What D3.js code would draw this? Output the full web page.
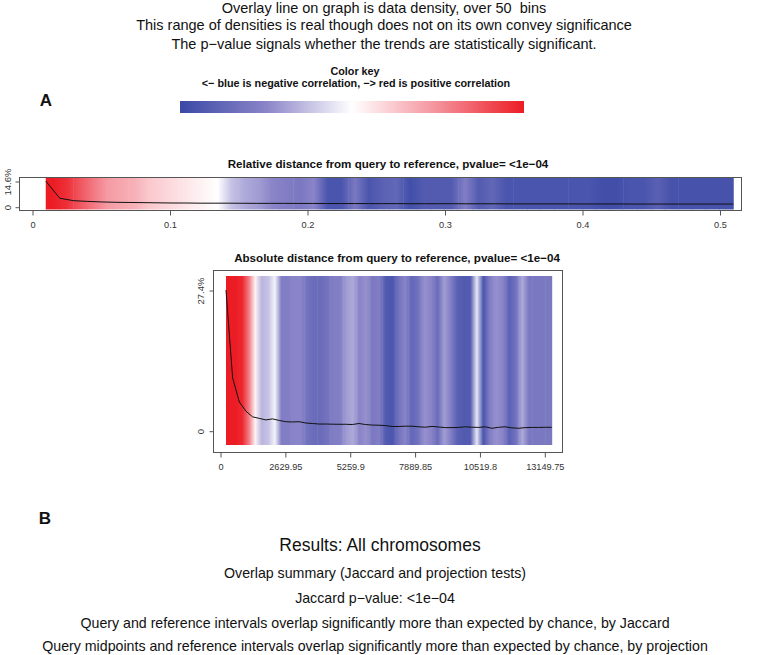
<!DOCTYPE html>
<html><head><meta charset="utf-8">
<script src="https://cdn.jsdelivr.net/npm/d3@7"></script>
<style>body{margin:0;background:#fff}svg{display:block}text{font-family:"Liberation Sans",Arial,sans-serif;white-space:pre}</style>
</head><body><svg id="c" width="761" height="655"></svg>
<script>
// ---------------- data ----------------
const headerLines = [
  "Overlay line on graph is data density, over 50  bins",
  "This range of densities is real though does not on its own convey significance",
  "The p\u2212value signals whether the trends are statistically significant."
];
const keyTitle = "Color key";
const keySubtitle = "<\u2212 blue is negative correlation, \u2212> red is positive correlation";
const relTitle = "Relative distance from query to reference, pvalue= <1e\u221204";
const absTitle = "Absolute distance from query to reference, pvalue= <1e\u221204";
// relative distance: 50 bins from 0.01 to 0.51
const relRange = [0.01, 0.51];
const relCorr = [1.0,0.92,0.75,0.6,0.45,0.4,0.35,0.25,0.2,0.15,
  0.1,0.05,0.0,-0.25,-0.35,-0.4,-0.5,-0.55,-0.6,-0.5,
  -0.9,-0.9,-0.6,-0.9,-0.8,-0.75,-0.95,-0.85,-0.85,-0.85,
  -0.55,-0.85,-0.75,-0.9,-0.9,-0.9,-0.9,-0.9,-0.9,-0.9,
  -0.95,-0.95,-0.9,-0.9,-0.8,-0.92,-0.92,-0.92,-0.92,-0.92];
const relDensity = [14.6,4.8,3.4,3.0,2.7,2.5,2.4,2.3,2.2,2.1,
  2.1,2.0,2.0,2.0,1.95,1.9,1.9,1.9,1.85,1.85,
  1.8,1.8,1.8,1.75,1.75,1.75,1.7,1.7,1.7,1.7,
  1.65,1.65,1.65,1.6,1.6,1.6,1.6,1.6,1.55,1.55,
  1.55,1.55,1.5,1.5,1.5,1.5,1.5,1.5,1.5,1.5];
const relTicks = [0, 0.1, 0.2, 0.3, 0.4, 0.5];
const relYTicks = [0, 14.6];
// absolute distance: 50 bins
const absRange = [243, 13450];
const absCorr = [1.0,1.0,0.95,0.6,0.05,-0.3,-0.25,-0.05,-0.55,-0.55,
  -0.5,-0.5,-0.65,-0.7,-0.7,-0.65,-0.55,-0.55,-0.4,-0.35,
  -0.5,-0.45,-0.6,-0.55,-0.85,-0.9,-0.65,-0.5,-0.75,-0.65,
  -0.45,-0.5,-0.7,-0.4,-0.55,-0.8,-0.85,-0.85,-0.1,-0.9,
  -0.55,-0.45,-0.5,-0.8,-0.65,-0.35,-0.6,-0.6,-0.6,-0.6];
const absDensity = [27.4,10.3,5.6,3.8,2.7,2.4,2.1,2.3,2.0,1.75,
  1.7,1.75,1.5,1.4,1.3,1.3,1.27,1.25,1.25,1.2,
  1.4,1.2,1.1,1.07,1.0,0.82,0.82,0.88,0.88,0.76,
  0.68,0.84,0.72,0.6,0.6,0.64,0.76,0.68,0.64,0.76,
  0.47,0.66,0.76,0.56,0.47,0.6,0.64,0.64,0.66,0.66];
const absTicks = [0, 2629.95, 5259.9, 7889.85, 10519.8, 13149.75];
const absYTicks = [0, 27.4];
const footerTitle = "Results: All chromosomes";
const footerLines = [
  "Overlap summary (Jaccard and projection tests)",
  "Jaccard p\u2212value: <1e\u221204",
  "Query and reference intervals overlap significantly more than expected by chance, by Jaccard",
  "Query midpoints and reference intervals overlap significantly more than expected by chance, by projection"
];

// ---------------- drawing ----------------
const svg = d3.select("#c");
const defs = svg.append("defs");
const color = d3.scaleLinear().domain([-1, -0.5, 0, 0.5, 1])
  .range(["#3a49a6", "#8a84c8", "#ffffff", "#f4909a", "#ec1c24"]);

// header
svg.selectAll("text.hdr").data(headerLines).enter().append("text")
  .attr("x", 384).attr("y", (d, i) => [13, 30, 49][i])
  .attr("text-anchor", "middle").attr("font-size", 14.5).attr("fill", "#111").text(d => d);

// color key
svg.append("text").attr("x", 355).attr("y", 75).attr("text-anchor", "middle")
  .attr("font-size", 10.8).attr("font-weight", "bold").attr("fill", "#111").text(keyTitle);
svg.append("text").attr("x", 356).attr("y", 87).attr("text-anchor", "middle")
  .attr("font-size", 10.8).attr("font-weight", "bold").attr("fill", "#111").text(keySubtitle);
const keyScale = d3.scaleLinear().domain([-1, 1]).range([180, 524]);
const kg = defs.append("linearGradient").attr("id", "keyg").attr("gradientUnits", "userSpaceOnUse")
  .attr("x1", keyScale(-1)).attr("x2", keyScale(1)).attr("y1", 0).attr("y2", 0);
d3.range(-1, 1.0001, 0.05).forEach(v => kg.append("stop").attr("offset", (v + 1) / 2).attr("stop-color", color(v)));
svg.append("rect").attr("x", keyScale(-1)).attr("y", 101).attr("width", keyScale(1) - keyScale(-1)).attr("height", 12)
  .attr("fill", "url(#keyg)");

svg.append("text").attr("x", 46).attr("y", 106).attr("text-anchor", "middle").attr("font-size", 17)
  .attr("font-weight", "bold").attr("fill", "#111").text("A");
svg.append("text").attr("x", 45).attr("y", 524).attr("text-anchor", "middle").attr("font-size", 17)
  .attr("font-weight", "bold").attr("fill", "#111").text("B");

function panel(opt) {
  const g = svg.append("g");
  const x = d3.scaleLinear().domain(opt.xDomain).range(opt.xRange);
  const y = d3.scaleLinear().domain([0, opt.yMax]).range(opt.yRange);
  const n = opt.corr.length;
  const bw = (opt.range[1] - opt.range[0]) / n;
  const centers = opt.corr.map((c, i) => opt.range[0] + bw * (i + 0.5));
  const gid = opt.id + "g";
  const grad = defs.append("linearGradient").attr("id", gid).attr("gradientUnits", "userSpaceOnUse")
    .attr("x1", x(opt.range[0])).attr("x2", x(opt.range[1])).attr("y1", 0).attr("y2", 0);
  const tot = x(opt.range[1]) - x(opt.range[0]);
  opt.corr.forEach((c, i) => grad.append("stop")
    .attr("offset", (x(centers[i]) - x(opt.range[0])) / tot).attr("stop-color", color(c)));
  // cells
  g.selectAll("rect.cell").data(opt.corr).enter().append("rect")
    .attr("x", (d, i) => x(opt.range[0] + bw * i))
    .attr("width", (d, i) => x(opt.range[0] + bw * (i + 1)) - x(opt.range[0] + bw * i) + 0.5)
    .attr("y", opt.strip[0]).attr("height", opt.strip[1] - opt.strip[0])
    .attr("fill", "url(#" + gid + ")");
  // density line
  const lx = d3.scaleLinear().domain([0, n - 1]).range(opt.range);
  g.append("path").datum(opt.density)
    .attr("d", d3.line().x((d, i) => x(lx(i))).y(d => y(d)))
    .attr("fill", "none").attr("stroke", "#111").attr("stroke-width", 1);
  // frame
  g.append("rect").attr("x", opt.frame[0] + 0.5).attr("y", opt.frame[1] + 0.5)
    .attr("width", opt.frame[2] - opt.frame[0]).attr("height", opt.frame[3] - opt.frame[1])
    .attr("fill", "none").attr("stroke", "#555").attr("stroke-width", 1);
  // x axis
  const xa = g.append("g").attr("transform", `translate(0.5,${opt.frame[3] + 0.5})`)
    .call(d3.axisBottom(x).tickValues(opt.xTicks).tickFormat(d => String(d)).tickSize(5).tickPadding(6).tickSizeOuter(0));
  xa.select(".domain").remove();
  xa.selectAll("line").attr("stroke", "#555");
  xa.selectAll("text").attr("font-size", 9.2).attr("fill", "#333").attr("font-family", "Liberation Sans, Arial, sans-serif");
  // y axis
  const ya = g.append("g").attr("transform", `translate(${opt.frame[0] + 0.5},0.5)`)
    .call(d3.axisLeft(y).tickValues(opt.yTicks).tickFormat(d => d === 0 ? "0" : d + "%").tickSize(4).tickSizeOuter(0));
  ya.select(".domain").remove();
  ya.selectAll("line").attr("stroke", "#555");
  ya.selectAll("text").attr("font-size", 9.5).attr("fill", "#333").attr("font-family", "Liberation Sans, Arial, sans-serif")
    .attr("x", null).attr("dy", null).attr("text-anchor", "middle")
    .attr("transform", `translate(${opt.yLabelX - opt.frame[0]},0) rotate(-90)`).attr("y", 3.5);
  // title
  g.append("text").attr("x", opt.titleX).attr("y", opt.titleY).attr("text-anchor", "middle")
    .attr("font-size", 11.6).attr("font-weight", "bold").attr("fill", "#111").text(opt.title);
}

panel({id: "rel", corr: relCorr, density: relDensity, range: relRange,
  xDomain: [0, 0.5], xRange: [32, 719.5], yMax: 14.6, yRange: [206.7, 181],
  strip: [177.5, 209.5], frame: [19, 177, 741, 210], xTicks: relTicks, yTicks: relYTicks,
  yLabelX: 7, title: relTitle, titleX: 388, titleY: 168});

panel({id: "abs", corr: absCorr, density: absDensity, range: absRange,
  xDomain: [0, 13149.75], xRange: [220, 544.3], yMax: 27.4, yRange: [430.7, 290],
  strip: [276, 445], frame: [213, 270, 562, 452], xTicks: absTicks, yTicks: absYTicks,
  yLabelX: 200, title: absTitle, titleX: 397, titleY: 262});

// footer
svg.append("text").attr("x", 380).attr("y", 551).attr("text-anchor", "middle").attr("font-size", 17.5)
  .attr("fill", "#111").text(footerTitle);
svg.selectAll("text.ftr").data(footerLines).enter().append("text")
  .attr("x", 375).attr("y", (d, i) => [578, 603, 628, 651][i])
  .attr("text-anchor", "middle").attr("font-size", 14.2).attr("fill", "#111").text(d => d);
</script></body></html>
